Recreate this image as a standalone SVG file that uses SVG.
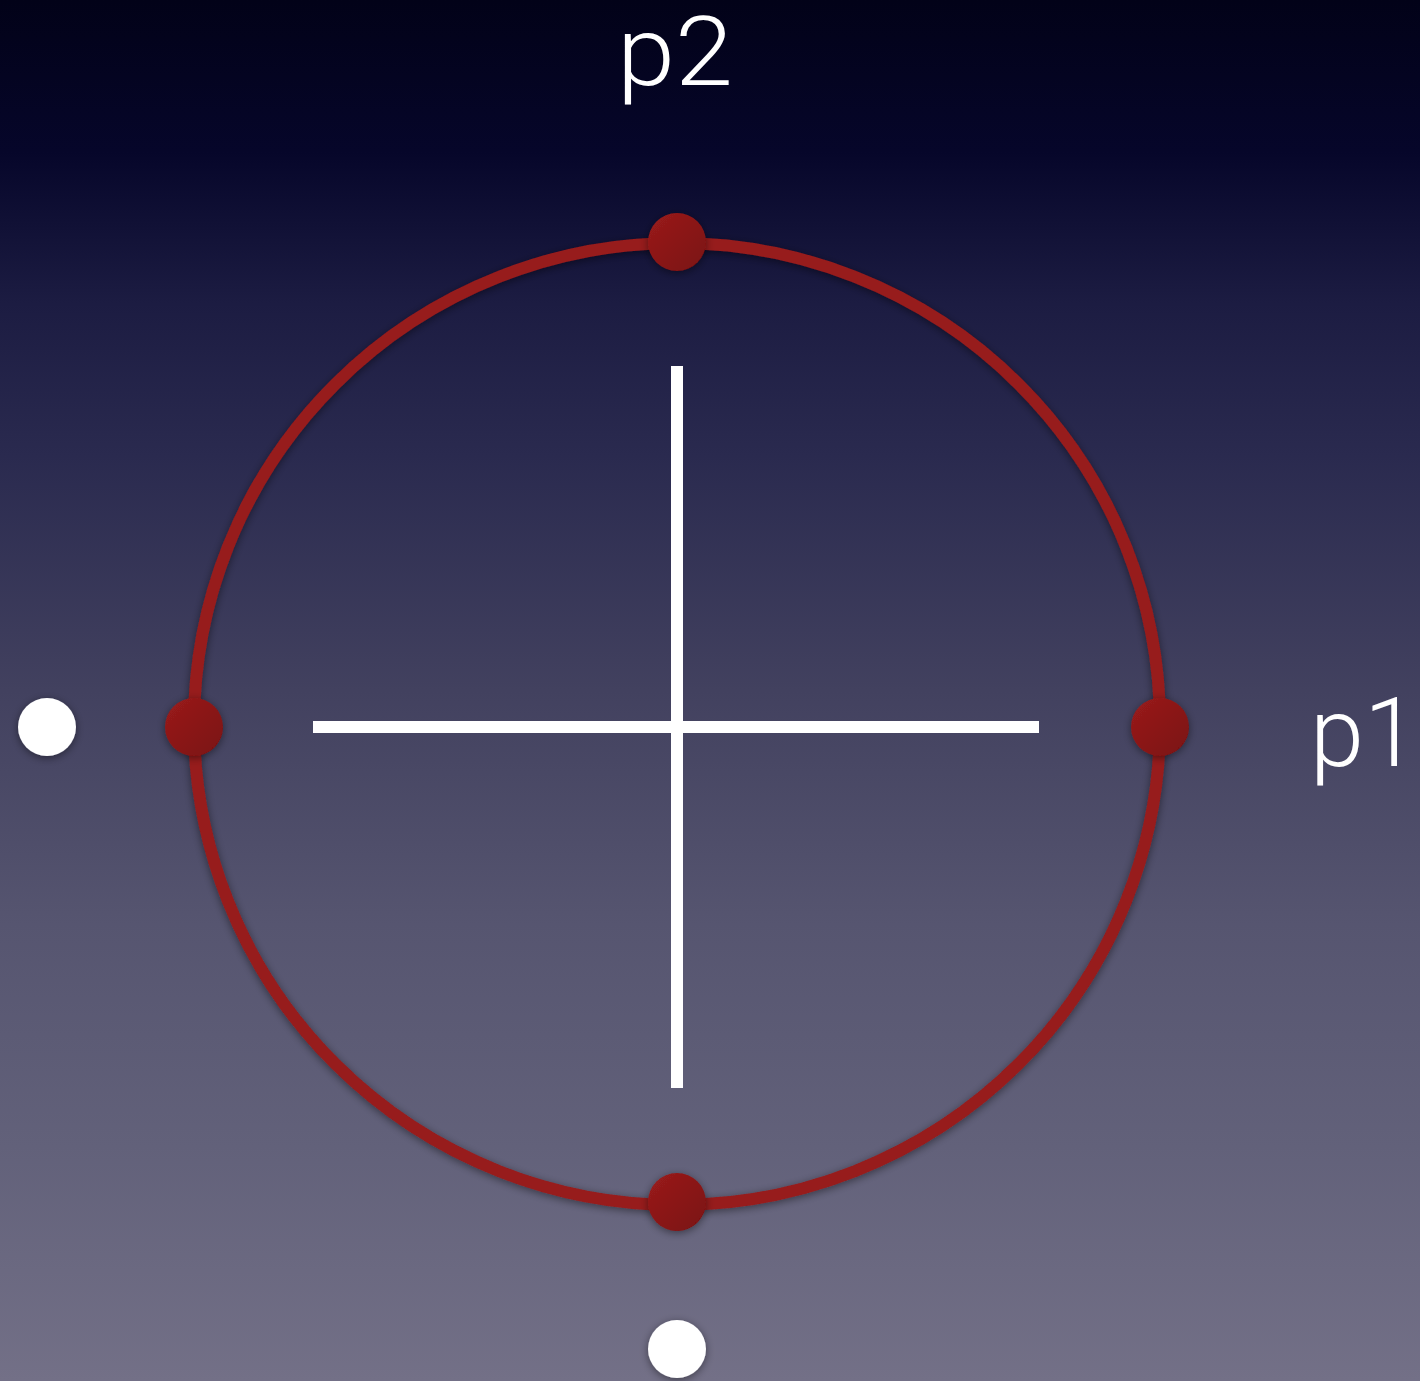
<svg xmlns="http://www.w3.org/2000/svg" width="1420" height="1381" viewBox="0 0 1420 1381">
<defs>
<linearGradient id="bg" x1="0" y1="0" x2="0" y2="1">
<stop offset="0" stop-color="#020218"/>
<stop offset="0.11" stop-color="#06062a"/>
<stop offset="0.22" stop-color="#1c1c42"/>
<stop offset="0.33" stop-color="#2a2a4f"/>
<stop offset="0.5" stop-color="#42415f"/>
<stop offset="0.67" stop-color="#565570"/>
<stop offset="0.83" stop-color="#62617a"/>
<stop offset="1" stop-color="#737087"/>
</linearGradient>
<linearGradient id="red" x1="0" y1="0" x2="1" y2="1">
<stop offset="0" stop-color="#9a1c1c"/>
<stop offset="1" stop-color="#7a1010"/>
</linearGradient>
<filter id="sh" x="-50%" y="-50%" width="200%" height="200%">
<feDropShadow dx="0" dy="2" stdDeviation="4" flood-color="#000" flood-opacity="0.45"/>
</filter>
<style>
.lbl{font-family:Roboto,"Liberation Sans",sans-serif;font-weight:300;font-size:96px;fill:#fff}
.rd{fill:url(#red);filter:url(#sh)}
.wd{fill:#fff;filter:url(#sh)}
.ax{stroke:#fff;stroke-width:12}
</style>
</defs>
<rect width="1420" height="1381" fill="url(#bg)"/>
<g id="ring"><ellipse cx="677" cy="724" rx="483" ry="481" fill="none" stroke="#971b1b" stroke-width="12" filter="url(#sh)"/></g>
<g id="connectors">
<line class="ax" x1="677" y1="366" x2="677" y2="1088"/>
<line class="ax" x1="313" y1="727" x2="1039" y2="727"/>
</g>
<g id="n-top"><circle class="rd" cx="677" cy="242" r="29"/></g>
<g id="n-left"><circle class="rd" cx="194" cy="727" r="29"/></g>
<g id="n-right"><circle class="rd" cx="1160" cy="727" r="29"/></g>
<g id="n-bottom"><circle class="rd" cx="677" cy="1202" r="29"/></g>
<g id="w-left"><circle class="wd" cx="47" cy="727" r="29"/></g>
<g id="w-bottom"><circle class="wd" cx="677" cy="1349" r="29"/></g>
<g id="label-p2"><text class="lbl" x="617" y="85" textLength="116" lengthAdjust="spacingAndGlyphs">p2</text></g>
<g id="label-p1"><text class="lbl" x="1310" y="766" textLength="108" lengthAdjust="spacingAndGlyphs">p1</text></g>
</svg>
